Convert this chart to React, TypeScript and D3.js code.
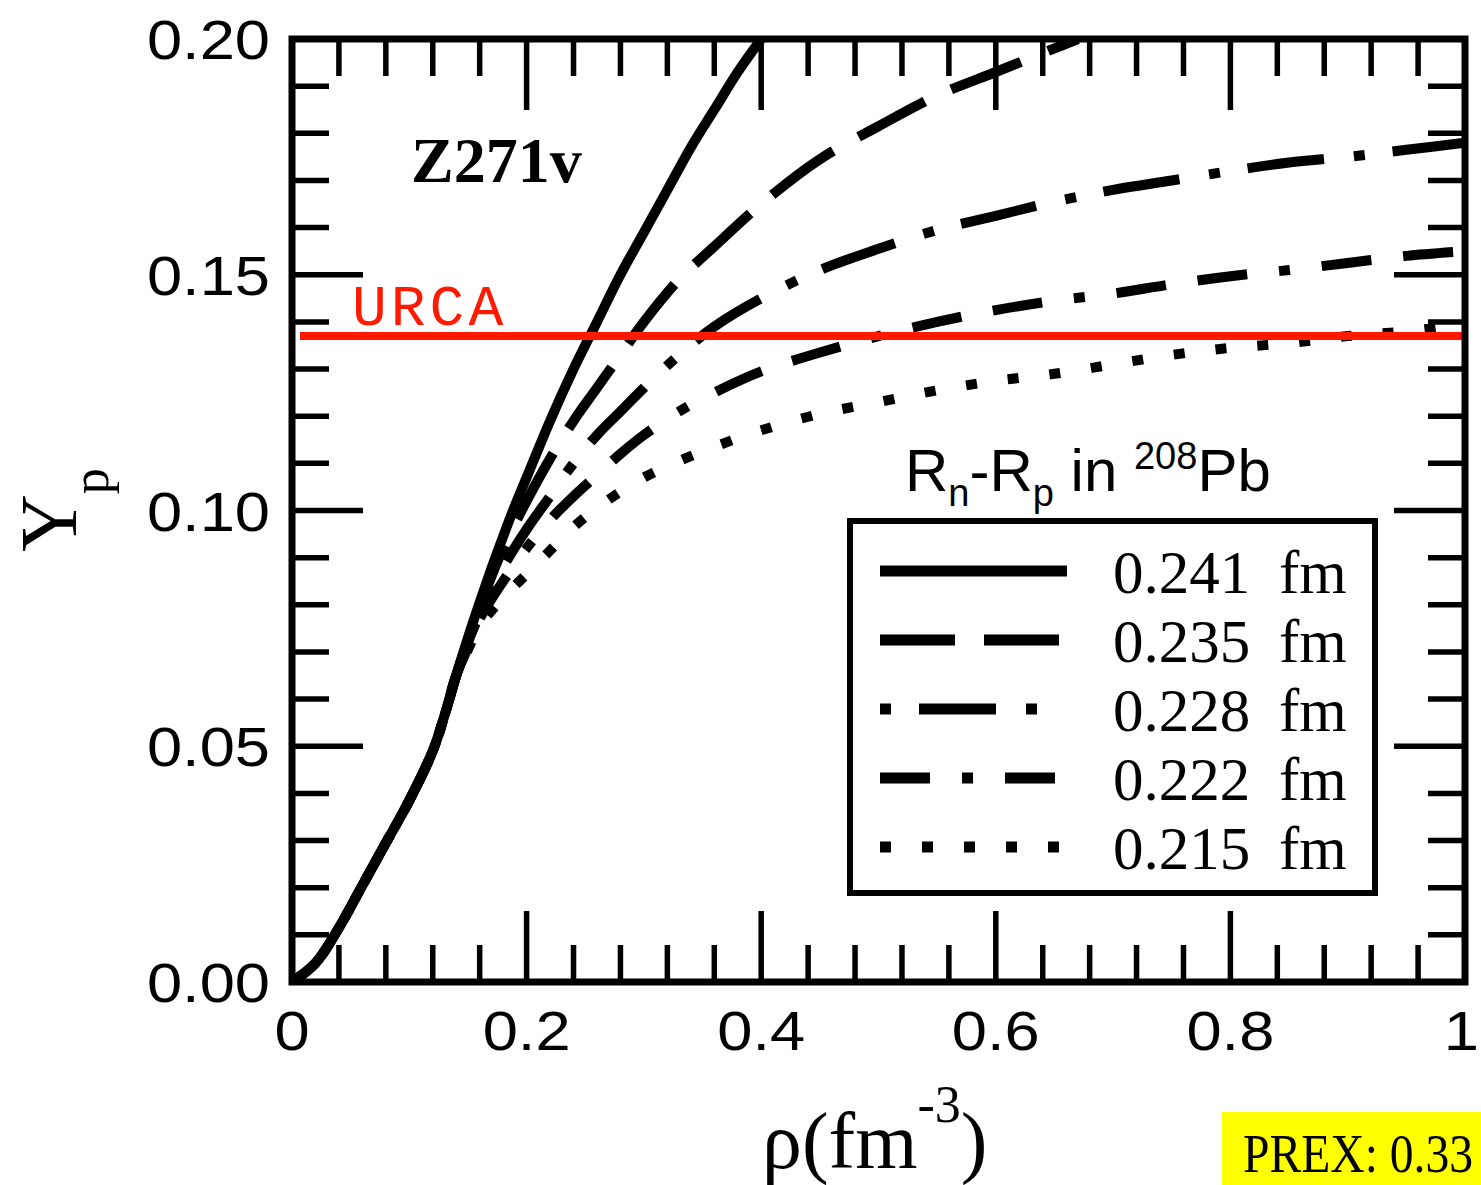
import React from "react";
import * as d3 from "d3";

// ---- data ----
const lowRho = [0, 0.02, 0.04, 0.06, 0.08, 0.1, 0.12, 0.13, 0.14];
const lowYp = [0, 0.004, 0.0115, 0.0205, 0.0295, 0.0385, 0.049, 0.0565, 0.065];

const rho241 = [0.15, 0.16, 0.17, 0.18, 0.19, 0.2, 0.22, 0.24, 0.26, 0.28, 0.3, 0.32, 0.34, 0.36, 0.38, 0.4];
const yp241 = [0.073, 0.0805, 0.0877, 0.0945, 0.101, 0.107, 0.119, 0.13, 0.14, 0.15, 0.159, 0.168, 0.177, 0.185, 0.193, 0.2];

const rho235 = [0.15, 0.16, 0.18, 0.2, 0.22, 0.24, 0.26, 0.28, 0.3, 0.33, 0.36, 0.4, 0.45, 0.5, 0.55, 0.6, 0.65, 0.67];
const yp235 = [0.0725, 0.0795, 0.092, 0.102, 0.111, 0.119, 0.126, 0.133, 0.14, 0.149, 0.156, 0.165, 0.1745, 0.1815, 0.188, 0.193, 0.198, 0.2];

const rhoHigh = [0.15, 0.16, 0.18, 0.2, 0.22, 0.24, 0.26, 0.28, 0.3, 0.33, 0.36, 0.4, 0.45, 0.5, 0.55, 0.6, 0.65, 0.7, 0.75, 0.8, 0.85, 0.9, 0.95, 1.0];
const yp228 = [0.072, 0.078, 0.088, 0.096, 0.103, 0.11, 0.116, 0.121, 0.126, 0.133, 0.139, 0.145, 0.151, 0.1555, 0.1595, 0.1625, 0.1655, 0.168, 0.17, 0.172, 0.1738, 0.175, 0.1765, 0.178];
const yp222 = [0.071, 0.077, 0.085, 0.092, 0.098, 0.103, 0.1075, 0.112, 0.116, 0.121, 0.125, 0.1295, 0.1335, 0.137, 0.14, 0.1425, 0.1445, 0.146, 0.148, 0.1497, 0.151, 0.1525, 0.154, 0.155];
const yp215 = [0.0705, 0.0755, 0.0815, 0.0865, 0.0915, 0.0965, 0.1005, 0.104, 0.107, 0.1105, 0.1135, 0.117, 0.1205, 0.123, 0.1255, 0.1275, 0.129, 0.131, 0.133, 0.1345, 0.1355, 0.137, 0.138, 0.1395];

const seriesLabels = ["0.241", "0.235", "0.228", "0.222", "0.215"];
const urcaYp = 0.137;

const xMajorTicks = [0, 0.2, 0.4, 0.6, 0.8, 1];
const xTickLabels = ["0", "0.2", "0.4", "0.6", "0.8", "1"];
const yMajorTicks = [0, 0.05, 0.1, 0.15, 0.2];
const yTickLabels = ["0.00", "0.05", "0.10", "0.15", "0.20"];

// ---- layout ----
const W = 1481;
const H = 1185;
const X0 = 292, X1 = 1465, Y0 = 982, Y1 = 39;

const styles = [
  { dash: "none", offset: 0 },
  { dash: "75 29", offset: 0 },
  { dash: "11 28 77 30", offset: 0 },
  { dash: "50 32 50 32 11 32", offset: 82 },
  { dash: "11 31", offset: 0 },
];

export default function App() {
  const x = d3.scaleLinear().domain([0, 1]).range([X0, X1]);
  const y = d3.scaleLinear().domain([0, 0.2]).range([Y0, Y1]);

  const build = (rs: number[], ys: number[]) =>
    lowRho.map((r, i) => [r, lowYp[i]] as [number, number]).concat(rs.map((r, i) => [r, ys[i]] as [number, number]));

  const series = [
    build(rho241, yp241),
    build(rho235, yp235),
    build(rhoHigh, yp228),
    build(rhoHigh, yp222),
    build(rhoHigh, yp215),
  ];

  const line = d3
    .line<[number, number]>()
    .x((d) => x(d[0]))
    .y((d) => y(d[1]))
    .curve(d3.curveCatmullRom.alpha(0.5));

  const xMinor = d3.range(0, 1.0001, 0.04).filter((v) => !xMajorTicks.some((m) => Math.abs(m - v) < 1e-6));
  const yMinor = d3.range(0, 0.2001, 0.01).filter((v) => !yMajorTicks.some((m) => Math.abs(m - v) < 1e-6));

  const tickW = 5.5;
  const majLen = 71;
  const minLen = 37;

  const legendRows = [571, 640, 709, 778, 847];

  return (
    <svg width={W} height={H} style={{ position: "absolute", left: 0, top: 0, background: "#fff" }}>
      <defs>
        <clipPath id="plotclip">
          <rect x={X0} y={Y1} width={X1 - X0} height={Y0 - Y1} />
        </clipPath>
      </defs>
      <rect x={0} y={0} width={W} height={H} fill="#fff" />

      {/* ticks */}
      <g stroke="#000" strokeWidth={tickW}>
        {xMajorTicks.map((t, i) => (
          <g key={"xm" + i}>
            <line x1={x(t)} x2={x(t)} y1={Y0} y2={Y0 - majLen} />
            <line x1={x(t)} x2={x(t)} y1={Y1} y2={Y1 + majLen} />
          </g>
        ))}
        {xMinor.map((t, i) => (
          <g key={"xn" + i}>
            <line x1={x(t)} x2={x(t)} y1={Y0} y2={Y0 - minLen} />
            <line x1={x(t)} x2={x(t)} y1={Y1} y2={Y1 + minLen} />
          </g>
        ))}
        {yMajorTicks.map((t, i) => (
          <g key={"ym" + i}>
            <line x1={X0} x2={X0 + majLen} y1={y(t)} y2={y(t)} />
            <line x1={X1} x2={X1 - majLen} y1={y(t)} y2={y(t)} />
          </g>
        ))}
        {yMinor.map((t, i) => (
          <g key={"yn" + i}>
            <line x1={X0} x2={X0 + minLen} y1={y(t)} y2={y(t)} />
            <line x1={X1} x2={X1 - minLen} y1={y(t)} y2={y(t)} />
          </g>
        ))}
      </g>

      {/* curves */}
      <g clipPath="url(#plotclip)" fill="none" stroke="#000" strokeWidth={10} strokeLinecap="butt">
        {series
          .map((s, i) => ({ s, i }))
          .reverse()
          .map(({ s, i }) => (
            <path
              key={"c" + i}
              d={line(s) || ""}
              strokeDasharray={styles[i].dash}
              strokeDashoffset={styles[i].offset}
            />
          ))}
      </g>

      {/* URCA line */}
      <line x1={300} x2={X1} y1={y(urcaYp)} y2={y(urcaYp)} stroke="#ff1a00" strokeWidth={8} />
      <text
        x={352}
        y={325}
        fontFamily="'Liberation Mono', 'DejaVu Sans Mono', monospace"
        fontSize={58}
        letterSpacing={4}
        fill="#ff1a00"
      >
        URCA
      </text>

      {/* frame */}
      <rect x={X0} y={Y1} width={X1 - X0} height={Y0 - Y1} fill="none" stroke="#000" strokeWidth={7} />

      {/* model label */}
      <text x={411} y={182} fontFamily="'Liberation Serif', 'DejaVu Serif', serif" fontWeight="bold" fontSize={64} fill="#000">
        Z271v
      </text>

      {/* Rn-Rp label */}
      <text x={905} y={491} fontFamily="'Liberation Sans', Arial, sans-serif" fontSize={60} fill="#000">
        R
        <tspan fontSize={38} dy={15}>n</tspan>
        <tspan dy={-15}>-R</tspan>
        <tspan fontSize={38} dy={15}>p</tspan>
        <tspan dy={-15}> in </tspan>
        <tspan fontSize={38} dy={-22}>208</tspan>
        <tspan dy={22}>Pb</tspan>
      </text>

      {/* legend */}
      <rect x={850} y={521} width={525} height={372} fill="#fff" stroke="#000" strokeWidth={6} />
      {seriesLabels.map((lab, i) => (
        <g key={"lg" + i}>
          <line
            x1={880}
            x2={i === 0 ? 1067 : 1060}
            y1={legendRows[i]}
            y2={legendRows[i]}
            stroke="#000"
            strokeWidth={11}
            strokeDasharray={styles[i].dash}
            strokeDashoffset={styles[i].offset}
          />
          <text x={1113} y={legendRows[i] + 22} fontFamily="'Liberation Serif', 'DejaVu Serif', serif" fontSize={61} fill="#000">
            {lab}
          </text>
          <text x={1279} y={legendRows[i] + 22} fontFamily="'Liberation Serif', 'DejaVu Serif', serif" fontSize={61} fill="#000">
            fm
          </text>
        </g>
      ))}

      {/* y tick labels */}
      {yMajorTicks.map((t, i) => (
        <text
          key={"yl" + i}
          transform={`translate(270, ${y(t) + 20}) scale(1.15, 1)`}
          textAnchor="end"
          fontFamily="'Liberation Sans', Arial, sans-serif"
          fontSize={55}
          fill="#000"
        >
          {yTickLabels[i]}
        </text>
      ))}

      {/* x tick labels */}
      {xMajorTicks.map((t, i) => {
        const last = i === xMajorTicks.length - 1;
        return (
          <text
            key={"xl" + i}
            transform={`translate(${last ? x(t) + 14 : x(t)}, 1050) scale(1.15, 1)`}
            textAnchor={last ? "end" : "middle"}
            fontFamily="'Liberation Sans', Arial, sans-serif"
            fontSize={55}
            fill="#000"
          >
            {xTickLabels[i]}
          </text>
        );
      })}

      {/* axis titles */}
      <text x={762} y={1168} fontFamily="'Liberation Serif', 'DejaVu Serif', serif" fontSize={80} fill="#000">
        ρ(fm
        <tspan fontSize={52} dy={-46}>-3</tspan>
        <tspan dy={46}>)</tspan>
      </text>

      <text
        transform="translate(76, 552) rotate(-90)"
        fontFamily="'Liberation Serif', 'DejaVu Serif', serif"
        fontSize={80}
        fill="#000"
      >
        Y
        <tspan fontSize={52} dy={32}>p</tspan>
      </text>

      {/* PREX box */}
      <rect x={1222} y={1112} width={259} height={73} fill="#ffff00" />
      <text
        transform="translate(1243, 1172) scale(0.85, 1)"
        fontFamily="'Liberation Serif', 'DejaVu Serif', serif"
        fontSize={56}
        fill="#000"
      >
        PREX: 0.33
      </text>
    </svg>
  );
}
